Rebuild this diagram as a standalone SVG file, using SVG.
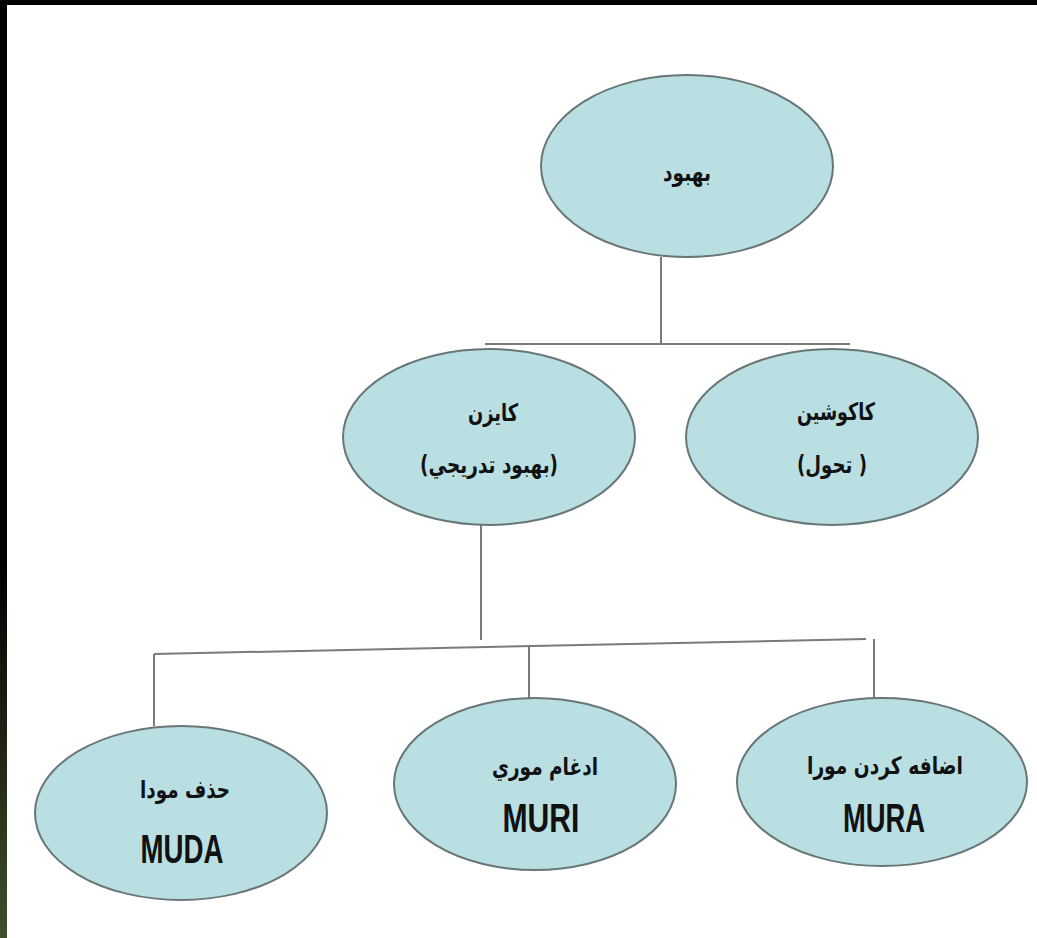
<svg xmlns="http://www.w3.org/2000/svg" width="1037" height="938" viewBox="0 0 1037 938">
<defs>
<linearGradient id="lg" x1="0" y1="0" x2="0" y2="1">
<stop offset="0" stop-color="#000"/>
<stop offset="0.6" stop-color="#000"/>
<stop offset="1" stop-color="#404e2c"/>
</linearGradient>
<style>
.n{fill:#b9dfe3;stroke:#697676;stroke-width:2}
.c{stroke:#7a7a7a;stroke-width:2;fill:none}
.ar{font-family:"DejaVu Sans",sans-serif;font-weight:bold;font-size:24px;fill:#111;text-anchor:middle}
.en{font-family:"Liberation Sans",Arial,sans-serif;font-weight:bold;font-size:40px;fill:#111;text-anchor:middle}
</style>
</defs>
<rect width="1037" height="938" fill="#fff"/>
<rect x="0" y="0" width="1037" height="5" fill="#000"/>
<rect x="0" y="0" width="7" height="938" fill="url(#lg)"/>
<g id="connectors">
<path class="c" d="M661 257V344M485 344H850"/>
<path class="c" d="M481 525V640"/>
<path class="c" d="M154 654L866 639"/>
<path class="c" d="M154 654V726M529 647V698M874 639V698"/>
</g>
<g id="n1">
<ellipse class="n" cx="687" cy="166" rx="146" ry="91"/>
<text class="ar" x="687" y="181" textLength="48" lengthAdjust="spacingAndGlyphs">بهبود</text>
</g>
<g id="n2">
<ellipse class="n" cx="489" cy="437" rx="146" ry="88"/>
<text class="ar" x="493" y="421" textLength="50" lengthAdjust="spacingAndGlyphs">كايزن</text>
<text class="ar" x="489" y="473" textLength="138" lengthAdjust="spacingAndGlyphs">(بهبود تدريجي)</text>
</g>
<g id="n3">
<ellipse class="n" cx="832" cy="437" rx="146" ry="88"/>
<text class="ar" x="836" y="420" textLength="78" lengthAdjust="spacingAndGlyphs">كاكوشين</text>
<text class="ar" x="832" y="473" textLength="70" lengthAdjust="spacingAndGlyphs">(تحول )</text>
</g>
<g id="n4">
<ellipse class="n" cx="181" cy="813" rx="146" ry="87"/>
<text class="ar" x="185" y="798" textLength="90" lengthAdjust="spacingAndGlyphs">حذف مودا</text>
<text class="en" x="182" y="863" textLength="83" lengthAdjust="spacingAndGlyphs">MUDA</text>
</g>
<g id="n5">
<ellipse class="n" cx="535" cy="784" rx="141" ry="86"/>
<text class="ar" x="545" y="775" textLength="106" lengthAdjust="spacingAndGlyphs">ادغام موري</text>
<text class="en" x="541" y="832" textLength="77" lengthAdjust="spacingAndGlyphs">MURI</text>
</g>
<g id="n6">
<ellipse class="n" cx="882" cy="782" rx="145" ry="84"/>
<text class="ar" x="885" y="774" textLength="156" lengthAdjust="spacingAndGlyphs">اضافه كردن مورا</text>
<text class="en" x="884" y="832" textLength="82" lengthAdjust="spacingAndGlyphs">MURA</text>
</g>
</svg>
